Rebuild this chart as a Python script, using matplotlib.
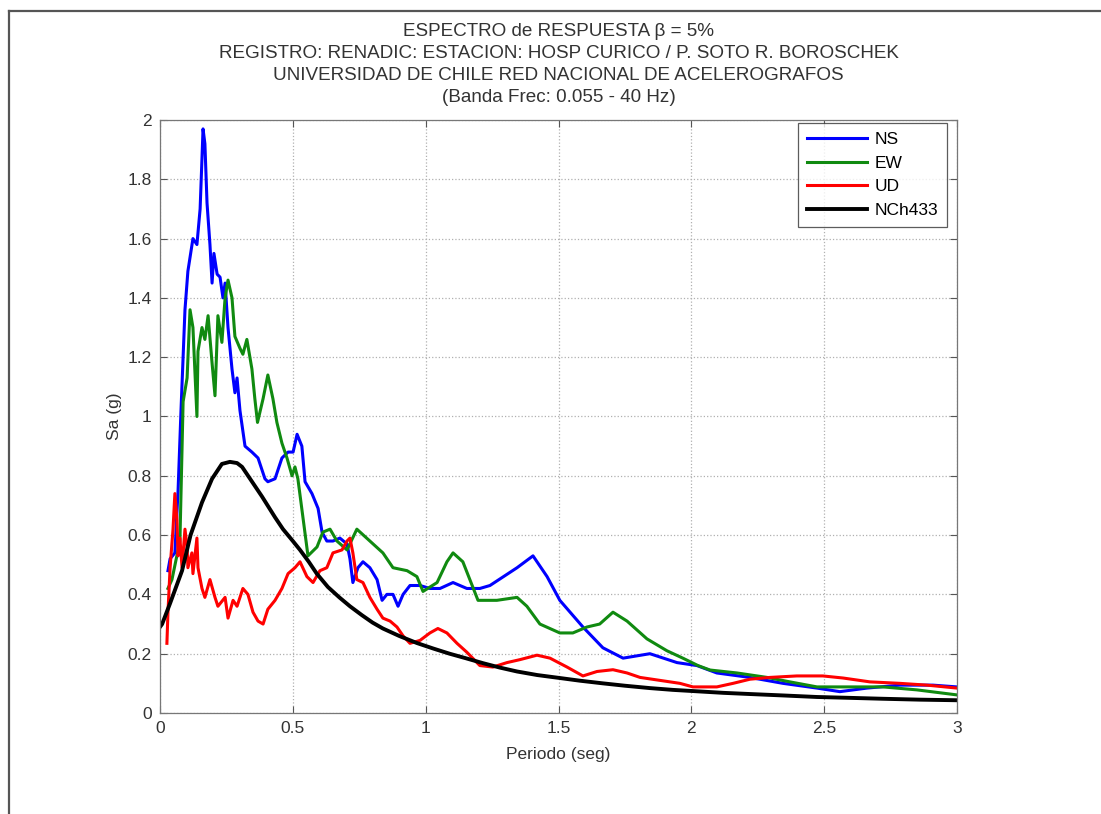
import matplotlib
matplotlib.use("Agg")
import matplotlib.pyplot as plt
from matplotlib.lines import Line2D
from matplotlib.ticker import FormatStrFormatter, MultipleLocator

plt.rcParams["font.family"] = ["Liberation Sans", "DejaVu Sans"]

# NS component
ns_t = [0.030, 0.038, 0.056, 0.068, 0.079, 0.094, 0.105, 0.124, 0.139, 0.151,
        0.158, 0.162, 0.169, 0.177, 0.188, 0.196, 0.203, 0.215, 0.226, 0.237,
        0.245, 0.256, 0.271, 0.282, 0.290, 0.301, 0.320, 0.346, 0.369, 0.395,
        0.406, 0.433, 0.459, 0.482, 0.501, 0.516, 0.534, 0.546, 0.572, 0.595,
        0.610, 0.628, 0.651, 0.677, 0.704, 0.715, 0.726, 0.745, 0.764, 0.790,
        0.817, 0.836, 0.854, 0.877, 0.896, 0.915, 0.941, 0.979, 1.016, 1.054,
        1.103, 1.155, 1.204, 1.242, 1.344, 1.404, 1.457, 1.505, 1.592, 1.667,
        1.743, 1.844, 1.946, 2.021, 2.096, 2.220, 2.345, 2.473, 2.559, 2.661,
        2.785, 2.909, 3.000]
ns_sa = [0.48, 0.52, 0.54, 0.75, 1.02, 1.36, 1.49, 1.60, 1.58, 1.70,
         1.87, 1.97, 1.92, 1.72, 1.58, 1.45, 1.55, 1.48, 1.47, 1.40,
         1.45, 1.30, 1.16, 1.08, 1.13, 1.02, 0.90, 0.88, 0.86, 0.79,
         0.78, 0.79, 0.86, 0.88, 0.88, 0.94, 0.90, 0.78, 0.74, 0.69,
         0.61, 0.58, 0.58, 0.59, 0.57, 0.52, 0.44, 0.49, 0.51, 0.49,
         0.45, 0.38, 0.40, 0.40, 0.36, 0.40, 0.43, 0.43, 0.42, 0.42,
         0.44, 0.42, 0.42, 0.43, 0.49, 0.53, 0.46, 0.38, 0.29, 0.22,
         0.185, 0.20, 0.17, 0.16, 0.135, 0.12, 0.10, 0.084, 0.072, 0.084,
         0.094, 0.094, 0.088]

# EW component
ew_t = [0.030, 0.045, 0.075, 0.087, 0.102, 0.113, 0.124, 0.139, 0.143, 0.158,
        0.169, 0.181, 0.196, 0.207, 0.218, 0.233, 0.245, 0.256, 0.271, 0.282,
        0.301, 0.312, 0.327, 0.346, 0.357, 0.367, 0.388, 0.406, 0.425, 0.440,
        0.459, 0.478, 0.497, 0.508, 0.519, 0.538, 0.557, 0.591, 0.613, 0.640,
        0.666, 0.704, 0.741, 0.790, 0.839, 0.877, 0.930, 0.967, 0.990, 1.043,
        1.080, 1.103, 1.140, 1.197, 1.268, 1.344, 1.381, 1.430, 1.505, 1.554,
        1.607, 1.655, 1.705, 1.758, 1.833, 1.908, 1.968, 2.025, 2.070, 2.172,
        2.285, 2.371, 2.473, 2.597, 2.721, 2.849, 3.000]
ew_sa = [0.42, 0.45, 0.58, 1.05, 1.13, 1.36, 1.30, 1.00, 1.22, 1.30,
         1.26, 1.34, 1.18, 1.07, 1.34, 1.25, 1.40, 1.46, 1.40, 1.27,
         1.23, 1.21, 1.26, 1.16, 1.06, 0.98, 1.06, 1.14, 1.06, 0.98,
         0.91, 0.86, 0.80, 0.83, 0.79, 0.66, 0.53, 0.56, 0.61, 0.62,
         0.58, 0.55, 0.62, 0.58, 0.54, 0.49, 0.48, 0.46, 0.41, 0.44,
         0.51, 0.54, 0.51, 0.38, 0.38, 0.39, 0.36, 0.30, 0.27, 0.27,
         0.29, 0.30, 0.34, 0.31, 0.25, 0.21, 0.185, 0.16, 0.145, 0.135,
         0.12, 0.105, 0.088, 0.088, 0.088, 0.078, 0.061]

# UD component
ud_t = [0.026, 0.030, 0.038, 0.049, 0.056, 0.064, 0.068, 0.075, 0.083, 0.094,
        0.102, 0.105, 0.120, 0.124, 0.139, 0.143, 0.158, 0.169, 0.188, 0.207,
        0.218, 0.245, 0.256, 0.275, 0.290, 0.301, 0.312, 0.331, 0.350, 0.369,
        0.388, 0.406, 0.433, 0.459, 0.482, 0.508, 0.527, 0.553, 0.576, 0.602,
        0.628, 0.651, 0.685, 0.704, 0.715, 0.726, 0.741, 0.764, 0.790, 0.817,
        0.839, 0.866, 0.892, 0.915, 0.941, 0.979, 1.016, 1.046, 1.080, 1.118,
        1.155, 1.204, 1.253, 1.306, 1.355, 1.419, 1.468, 1.532, 1.592, 1.645,
        1.705, 1.758, 1.807, 1.882, 1.957, 2.006, 2.096, 2.157, 2.221, 2.296,
        2.397, 2.495, 2.571, 2.672, 2.785, 2.887, 3.000]
ud_sa = [0.235, 0.34, 0.49, 0.62, 0.74, 0.65, 0.53, 0.59, 0.49, 0.62,
         0.56, 0.49, 0.54, 0.47, 0.59, 0.49, 0.42, 0.39, 0.45, 0.39,
         0.36, 0.39, 0.32, 0.38, 0.36, 0.39, 0.42, 0.40, 0.34, 0.31,
         0.30, 0.35, 0.38, 0.42, 0.47, 0.49, 0.51, 0.46, 0.44, 0.48,
         0.49, 0.54, 0.55, 0.58, 0.59, 0.54, 0.45, 0.44, 0.39, 0.35,
         0.32, 0.31, 0.29, 0.26, 0.235, 0.245, 0.27, 0.285, 0.27, 0.235,
         0.205, 0.16, 0.155, 0.17, 0.18, 0.195, 0.185, 0.155, 0.125, 0.14,
         0.146, 0.135, 0.12, 0.11, 0.10, 0.088, 0.088, 0.10, 0.114, 0.12,
         0.125, 0.125, 0.118, 0.105, 0.10, 0.094, 0.084]

# NCh433 design spectrum
nch_t = [0.0, 0.008, 0.038, 0.083, 0.115, 0.158, 0.196, 0.233, 0.263, 0.290,
         0.309, 0.339, 0.384, 0.433, 0.463, 0.500, 0.527, 0.560, 0.590, 0.632,
         0.675, 0.715, 0.760, 0.800, 0.839, 0.900, 0.967, 1.030, 1.09, 1.150,
         1.216, 1.280, 1.344, 1.420, 1.505, 1.580, 1.667, 1.750, 1.844, 1.930,
         2.025, 2.120, 2.22, 2.350, 2.473, 2.600, 2.721, 2.860, 3.0]
nch_sa = [0.29, 0.30, 0.37, 0.48, 0.60, 0.71, 0.79, 0.84, 0.847, 0.843,
          0.83, 0.79, 0.73, 0.66, 0.62, 0.58, 0.55, 0.51, 0.47, 0.425,
          0.39, 0.36, 0.33, 0.305, 0.285, 0.26, 0.236, 0.217, 0.20, 0.185,
          0.168, 0.153, 0.14, 0.128, 0.118, 0.109, 0.10, 0.092, 0.084, 0.078,
          0.073, 0.068, 0.064, 0.059, 0.054, 0.051, 0.048, 0.045, 0.043]

title_lines = [
    "ESPECTRO de RESPUESTA \u03b2 = 5%",
    "REGISTRO: RENADIC: ESTACION: HOSP CURICO / P. SOTO R. BOROSCHEK",
    "UNIVERSIDAD DE CHILE RED NACIONAL DE ACELEROGRAFOS",
    "(Banda Frec: 0.055 - 40 Hz)",
]

fig = plt.figure(figsize=(11.01, 8.14), dpi=100)
ax = fig.add_axes([160 / 1101, 1 - 713 / 814, 797 / 1101, 593 / 814])

ax.plot(ns_t, ns_sa, color="#0000ff", lw=2.2, label="NS")
ax.plot(ew_t, ew_sa, color="#108a10", lw=2.2, label="EW")
ax.plot(ud_t, ud_sa, color="#ff0000", lw=2.2, label="UD")
ax.plot(nch_t, nch_sa, color="black", lw=2.8, label="NCh433")

ax.set_xlim(0, 3)
ax.set_ylim(0, 2)
ax.xaxis.set_major_locator(MultipleLocator(0.5))
ax.yaxis.set_major_locator(MultipleLocator(0.2))
ax.xaxis.set_major_formatter(FormatStrFormatter("%g"))
ax.yaxis.set_major_formatter(FormatStrFormatter("%g"))
ax.tick_params(direction="in", top=True, right=True, length=5, width=0.8,
               color="#555555", labelsize=12.5, labelcolor="#333333", pad=6)
ax.grid(True, linestyle=":", color="#b0b0b0", linewidth=0.9)
for s in ax.spines.values():
    s.set_color("#777777")
    s.set_linewidth(0.9)

ax.set_xlabel("Periodo (seg)", fontsize=12.5, color="#333333", labelpad=8)
ax.set_ylabel("Sa (g)", fontsize=12.5, color="#333333", labelpad=4)

for i, line in enumerate(title_lines):
    fig.text(558.5 / 1101, 1 - (32 + i * 22) / 814, line, ha="center", va="center",
             fontsize=13.6, color="#333333")

leg = ax.legend(loc="upper right", bbox_to_anchor=(0.987, 0.995), borderaxespad=0,
                fancybox=False, fontsize=12.5, handlelength=3.5, labelspacing=0.5,
                borderpad=0.5, handletextpad=0.4)
leg.get_frame().set_edgecolor("#333333")
leg.get_frame().set_linewidth(0.9)

# scanned page frame (top and left edges)
fig.add_artist(Line2D([8.5 / 1101, 1], [1 - 10.5 / 814, 1 - 10.5 / 814],
                      transform=fig.transFigure, color="#555555", lw=1.6))
fig.add_artist(Line2D([8.5 / 1101, 8.5 / 1101], [0, 1 - 10.5 / 814],
                      transform=fig.transFigure, color="#555555", lw=1.6))

fig.savefig("out.png", dpi=100)
